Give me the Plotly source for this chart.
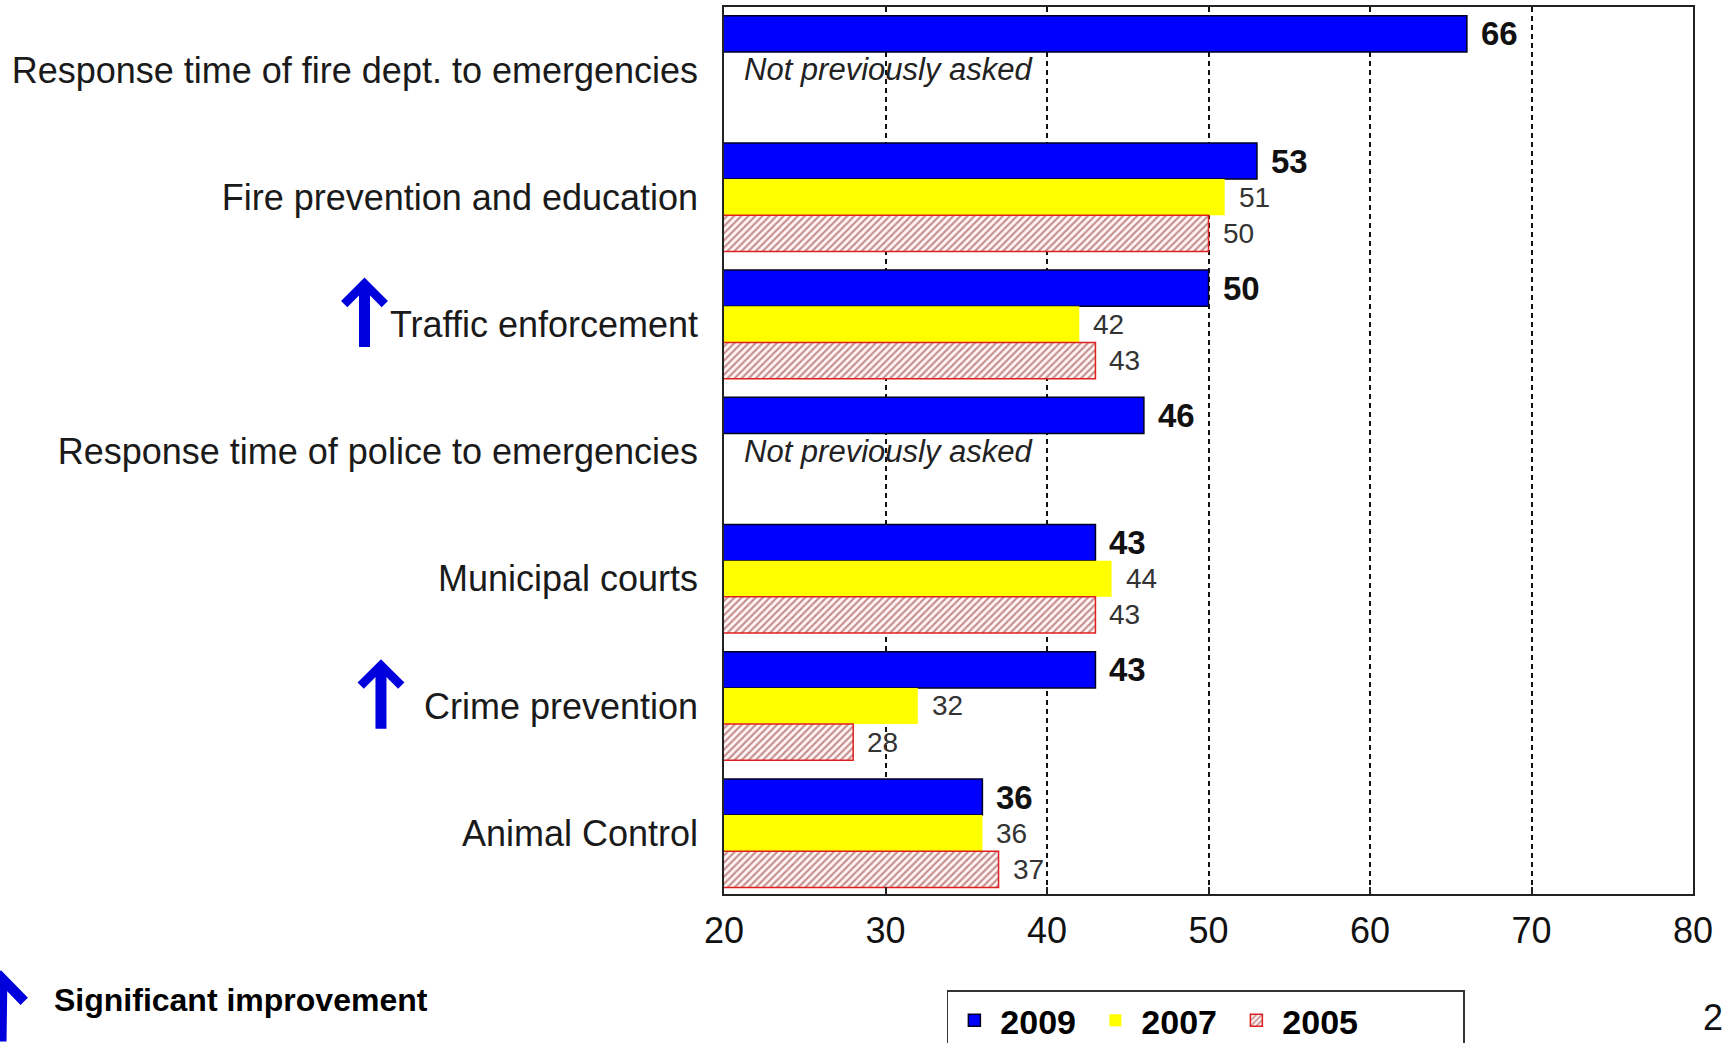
import plotly.graph_objects as go

# ---- data -------------------------------------------------------------
categories = [
    "Response time of fire dept. to emergencies",
    "Fire prevention and education",
    "Traffic enforcement",
    "Response time of police to emergencies",
    "Municipal courts",
    "Crime prevention",
    "Animal Control",
]
years = ["2009", "2007", "2005"]
values_2009 = [66, 53, 50, 46, 43, 43, 36]
values_2007 = [None, 51, 42, None, 44, 32, 36]
values_2005 = [None, 50, 43, None, 43, 28, 37]
significant = [False, False, True, False, False, True, False]
not_asked_note = "Not previously asked"
x_ticks = [20, 30, 40, 50, 60, 70, 80]
legend_note = "Significant improvement"
page_number = "2"

# ---- styling ----------------------------------------------------------
FONT = "Liberation Sans, Arial, sans-serif"
BLUE = "#0000FF"
YELLOW = "#FFFF00"
HATCH_RED = "#8e2626"
BAR_GAP = 0.147
BAR_W = (1 - BAR_GAP) / 3  # thickness of one bar within a group

positions = list(range(len(categories)))
series = [values_2009, values_2007, values_2005]

fig = go.Figure()

fig.add_trace(go.Bar(
    name=years[0], y=positions, x=values_2009, orientation="h",
    marker=dict(color=BLUE, line=dict(color="#000022", width=1.5)),
    hoverinfo="x+name", legendwidth=84,
))
fig.add_trace(go.Bar(
    name=years[1], y=positions, x=values_2007, orientation="h",
    marker=dict(color=YELLOW, line=dict(color=YELLOW, width=0)),
    hoverinfo="x+name", legendwidth=84,
))
fig.add_trace(go.Bar(
    name=years[2], y=positions, x=values_2005, orientation="h",
    marker=dict(
        color="#fff6f6",
        line=dict(color="#e02020", width=1.5),
        pattern=dict(shape="/", fgcolor=HATCH_RED, bgcolor="#fff6f6",
                     size=5, solidity=0.42),
    ),
    hoverinfo="x+name", legendwidth=176,
))

annotations = []

# value labels next to each bar (2009 in bold)
for k, vals in enumerate(series):
    for i, v in enumerate(vals):
        if v is None:
            continue
        annotations.append(dict(
            x=v, y=i + (k - 1) * BAR_W, xref="x", yref="y",
            text=str(v), showarrow=False, xanchor="left", yanchor="middle",
            xshift=12,
            font=dict(family=FONT, size=33 if k == 0 else 28,
                      color="#111111" if k == 0 else "#333333",
                      weight="bold" if k == 0 else "normal"),
        ))

# note for items that were new in 2009
for i, v in enumerate(values_2007):
    if v is None:
        annotations.append(dict(
            x=21.1, y=i, xref="x", yref="y", text=not_asked_note,
            showarrow=False, xanchor="left", yanchor="middle",
            font=dict(family=FONT, size=31, color="#222222", style="italic"),
        ))

# blue arrows flagging significant improvement
arrow_x = {2: -0.371, 5: -0.354}
for i, flag in enumerate(significant):
    if flag:
        annotations.append(dict(
            x=arrow_x.get(i, -0.36), y=i - 0.368, xref="paper", yref="y",
            ax=0, ay=i + 0.19, axref="pixel", ayref="y",
            text="", showarrow=True, arrowhead=4, arrowsize=0.71,
            arrowwidth=11, arrowcolor="#0000DD", standoff=0,
        ))

# key for the arrow symbol
annotations.append(dict(
    x=-0.7523, y=-0.0859, xref="paper", yref="paper",
    ax=0, ay=100, text="", showarrow=True, arrowhead=4, arrowsize=0.7,
    arrowwidth=13, arrowcolor="#0000DD", standoff=0,
))
annotations.append(dict(
    x=-0.6935, y=-0.119, xref="paper", yref="paper", text=legend_note,
    showarrow=False, xanchor="left", yanchor="middle",
    font=dict(family=FONT, size=32, color="#000000", weight="bold"),
))
annotations.append(dict(
    x=1.008, y=-0.139, xref="paper", yref="paper", text=page_number,
    showarrow=False, xanchor="left", yanchor="middle",
    font=dict(family=FONT, size=36, color="#111111"),
))

fig.update_layout(
    width=1727, height=1043,
    margin=dict(l=724, r=34, t=7, b=149, pad=0, autoexpand=False),
    paper_bgcolor="white", plot_bgcolor="white",
    barmode="group", bargap=BAR_GAP, bargroupgap=0,
    showlegend=True,
    legend=dict(
        orientation="h", x=0.23, y=-0.1085, xanchor="left", yanchor="top",
        font=dict(family=FONT, size=34, color="#000000", weight="bold"),
        bordercolor="#333333", borderwidth=1.5, bgcolor="white",
        traceorder="normal", itemwidth=42,
    ),
    annotations=annotations,
    font=dict(family=FONT),
)

fig.update_xaxes(
    range=[20, 80], tickvals=x_ticks, ticktext=[str(t) for t in x_ticks],
    showgrid=True, gridcolor="#111111", gridwidth=1.5, griddash="5px,4px",
    showline=True, linecolor="#222222", linewidth=1.5, mirror=True,
    ticks="inside", ticklen=7, tickcolor="#222222", tickwidth=1.5,
    tickfont=dict(family=FONT, size=36, color="#111111"),
    ticklabelstandoff=4, zeroline=False,
)
fig.update_yaxes(
    range=[6.478, -0.495], tickvals=positions, ticktext=categories,
    showgrid=False, showline=True, linecolor="#222222", linewidth=1.5,
    mirror=True, ticks="", zeroline=False,
    tickfont=dict(family=FONT, size=36, color="#1a1a1a"),
    ticklabelstandoff=17,
)

fig.write_html("out.html")
